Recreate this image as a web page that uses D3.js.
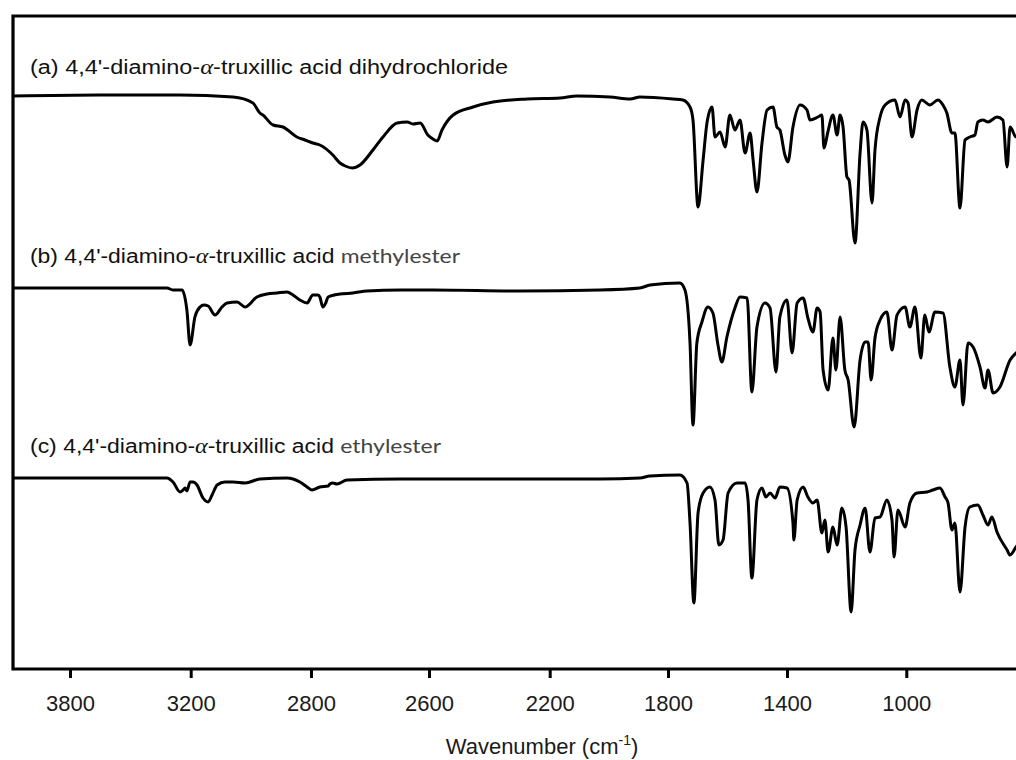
<!DOCTYPE html>
<html>
<head>
<meta charset="utf-8">
<style>
  body { margin: 0; background: #fff; }
</style>
</head>
<body>
<svg id="chart"></svg>
<script src="https://d3js.org/d3.v7.min.js"></script>
<script>
// wavenumber axis: the printed tick labels are not evenly spaced in value
var tickValues = [3800, 3200, 2800, 2600, 2200, 1800, 1400, 1000];
var axisDomain = [4083, 3800, 3200, 2800, 2600, 2200, 1800, 1400, 1000, 600];

var labels = ["(a)", "(b)", "(c)"];
var compound = ["dihydrochloride", "methylester", "ethylester"];

// (a) dihydrochloride
var waveA = [4083,3651,3253,3059,2993,2970,2960,2926,2893,2847,2820,2797,2785,2763,2751,2742,2730,2717,2695,2678,2654,2637,2627,2615,2602,2587,2573,2557,2520,2454,2388,2275,2165,2108,1996,1928,1895,1783,1750,1726,1716,1699,1682,1669,1652,1642,1625,1608,1592,1575,1558,1541,1524,1514,1501,1484,1467,1447,1434,1424,1407,1397,1380,1356,1333,1323,1296,1283,1276,1263,1246,1232,1222,1212,1199,1192,1172,1155,1145,1132,1115,1105,1088,1071,1038,1021,1004,994,981,964,948,921,894,877,864,847,837,820,803,787,770,760,743,726,696,676,662,652,632,600];
var transA = [114.6,114.8,114.8,114.4,113.2,111.2,110.8,108.8,108.4,106.4,105.8,105.2,104.8,102.8,101.2,100.6,100.2,100.8,103.8,106.4,109.2,109.4,109.0,109.2,106.8,106.0,105.6,107.8,110.8,112.4,113.4,114.0,114.2,114.6,114.4,114.0,114.4,114.0,113.8,112.4,109.8,92.4,101.8,109.2,112.4,106.4,107.4,104.4,110.8,107.8,109.8,103.2,107.2,101.8,95.4,105.2,111.8,112.4,108.4,107.8,102.8,101.4,108.4,112.8,111.8,109.8,110.4,110.8,104.2,107.4,110.8,106.8,110.8,108.4,98.4,97.8,85.2,103.2,109.4,107.8,93.2,103.8,110.4,112.8,113.8,110.4,113.8,113.2,106.4,111.8,113.8,112.8,113.8,112.8,111.2,107.2,107.2,92.2,105.8,106.4,106.8,109.4,109.8,109.4,110.4,109.8,100.4,108.4,106.4,108.0];

// (b) methylester
var waveB = [4083,3651,3318,3288,3243,3219,3203,3186,3169,3156,3142,3119,3096,3079,3046,3019,2980,2946,2913,2880,2860,2837,2813,2797,2788,2785,2780,2775,2771,2751,2729,2705,2649,2587,2298,2030,1895,1861,1760,1743,1726,1716,1703,1686,1666,1649,1632,1619,1602,1575,1558,1534,1518,1501,1474,1457,1437,1424,1400,1383,1366,1346,1330,1313,1299,1289,1279,1262,1246,1236,1222,1206,1195,1175,1155,1138,1128,1118,1105,1088,1065,1048,1031,1004,988,971,951,938,924,904,877,854,837,820,810,793,776,753,736,726,709,686,652,632,600];
var transB = [76.2,76.2,76.2,75.8,75.8,71.8,64.8,70.4,72.4,72.8,72.6,70.8,72.4,73.2,73.4,72.4,74.4,75.0,75.2,75.4,74.8,73.8,73.2,74.8,74.8,74.4,72.4,73.2,74.4,75.0,75.2,75.6,75.8,75.8,75.6,75.8,76.2,76.8,77.2,75.8,65.2,48.8,65.2,69.4,72.4,71.2,64.8,61.4,66.4,72.2,74.4,74.2,55.4,68.4,73.2,72.2,59.4,70.4,73.8,63.2,73.2,74.2,70.2,67.4,72.2,71.4,59.8,55.8,66.2,59.8,70.4,59.8,57.8,48.4,61.8,65.4,65.4,57.8,66.2,69.8,71.4,63.8,70.8,72.4,68.4,72.4,62.2,70.8,67.4,71.4,71.2,60.4,56.4,61.8,52.8,65.2,64.4,60.4,56.2,59.8,55.2,56.4,61.8,63.2,64.8];

// (c) ethylester
var waveC = [4083,3651,3318,3288,3253,3238,3228,3219,3203,3192,3179,3159,3142,3129,3112,3086,3059,3019,2970,2880,2837,2813,2798,2785,2771,2768,2763,2756,2739,2649,2298,2030,1895,1861,1760,1736,1726,1713,1699,1682,1659,1642,1629,1615,1598,1568,1541,1531,1518,1501,1484,1471,1457,1440,1424,1400,1380,1377,1366,1346,1330,1313,1299,1283,1273,1262,1246,1232,1216,1202,1185,1172,1155,1138,1122,1105,1088,1065,1048,1041,1028,1004,988,964,931,911,887,870,860,847,837,820,803,787,760,743,726,713,696,662,652,632,600];
var transC = [38.2,38.2,38.2,37.4,35.4,35.8,36.2,35.6,37.4,37.4,36.8,34.2,33.4,34.8,36.8,37.4,37.4,37.2,38.0,38.2,37.4,36.4,35.8,36.4,36.6,37.0,37.2,37.0,37.8,38.0,38.0,38.0,38.2,38.6,38.8,37.2,29.2,13.2,31.2,35.2,36.4,33.8,24.8,25.8,35.2,37.2,37.2,33.8,18.2,33.8,36.2,34.4,35.2,34.2,36.4,36.2,29.2,25.8,33.8,36.4,34.4,33.2,33.8,27.2,29.8,23.4,28.4,24.8,32.2,28.4,11.4,23.8,28.8,32.2,23.4,30.2,30.4,33.8,29.8,22.4,31.8,28.4,33.2,35.2,35.4,35.8,36.2,34.4,33.2,27.8,29.2,15.4,28.4,32.4,32.8,30.8,28.8,30.4,27.4,23.8,22.8,24.4,26.8];

var W = 1016, H = 760;
var plotLeft = 13, plotTop = 16, plotBottom = 669;

var svg = d3.select("#chart")
  .attr("width", W)
  .attr("height", H);

// piecewise scale so the printed ticks land where they are in the figure
var x = d3.scaleLinear()
  .domain(axisDomain)
  .range([13, 70, 190.7, 311, 429, 549.7, 668, 787, 906.3, 1025.6]);

var y = d3.scaleLinear()
  .domain([0, 130.6])
  .range([plotBottom, plotTop]);

svg.append("defs").append("clipPath").attr("id", "clip")
  .append("rect")
  .attr("x", plotLeft).attr("y", plotTop)
  .attr("width", W - plotLeft).attr("height", plotBottom - plotTop);

var line = d3.line()
  .x(function(d){ return x(d[0]); })
  .y(function(d){ return y(d[1]); })
  .curve(d3.curveMonotoneX);

var series = [d3.zip(waveA, transA), d3.zip(waveB, transB), d3.zip(waveC, transC)];

svg.append("g").attr("clip-path", "url(#clip)")
  .selectAll("path")
  .data(series)
  .enter().append("path")
  .attr("d", line)
  .attr("fill", "none")
  .attr("stroke", "#000")
  .attr("stroke-width", 3)
  .attr("stroke-linejoin", "round");

// frame (left, top) and bottom axis line
svg.append("path")
  .attr("d", "M" + W + "," + plotTop + "H" + plotLeft + "V" + plotBottom + "H" + W)
  .attr("fill", "none")
  .attr("stroke", "#000")
  .attr("stroke-width", 3.2);

var xAxis = d3.axisBottom(x)
  .tickValues(tickValues)
  .tickSize(9)
  .tickFormat(d3.format("d"));

var gx = svg.append("g")
  .attr("transform", "translate(0," + plotBottom + ")")
  .call(xAxis);
gx.select(".domain").remove();
gx.selectAll(".tick line").attr("stroke-width", 3);
gx.selectAll(".tick text")
  .attr("y", 42).attr("dy", null)
  .style("font-family", "'Liberation Sans', Arial, sans-serif")
  .style("font-size", "22px")
  .attr("fill", "#1a1a1a");

var title = svg.append("text")
  .attr("x", 542).attr("y", 754)
  .attr("text-anchor", "middle")
  .style("font-family", "'Liberation Sans', Arial, sans-serif")
  .style("font-size", "22px")
  .attr("fill", "#1a1a1a");
title.append("tspan").text("Wavenumber (cm");
title.append("tspan").text("-1").style("font-size", "14px").attr("dy", -9);
title.append("tspan").text(")").attr("dy", 9);

// trace labels (the original text is a little stretched sideways)
var labelY = [74, 262.5, 453];
var labelWidth = [478, 430, 411];
labels.forEach(function(lab, i){
  var t = svg.append("text")
    .attr("x", 30).attr("y", labelY[i])
    .attr("textLength", labelWidth[i])
    .attr("lengthAdjust", "spacingAndGlyphs")
    .style("font-family", "'Liberation Sans', Arial, sans-serif")
    .style("font-size", "20px")
    .attr("fill", "#111");
  t.append("tspan").text(lab + " 4,4'-diamino-");
  t.append("tspan").text("α")
    .style("font-family", "'Liberation Serif', serif")
    .style("font-style", "italic")
    .style("font-size", "21px");
  if (i === 0) {
    t.append("tspan").text("-truxillic acid " + compound[i]);
  } else {
    t.append("tspan").text("-truxillic acid ");
    t.append("tspan").text(compound[i])
      .style("font-family", "Lato, 'Open Sans', sans-serif")
      .style("font-size", "20px")
      .attr("fill", "#444");
  }
});
</script>
</body>
</html>
